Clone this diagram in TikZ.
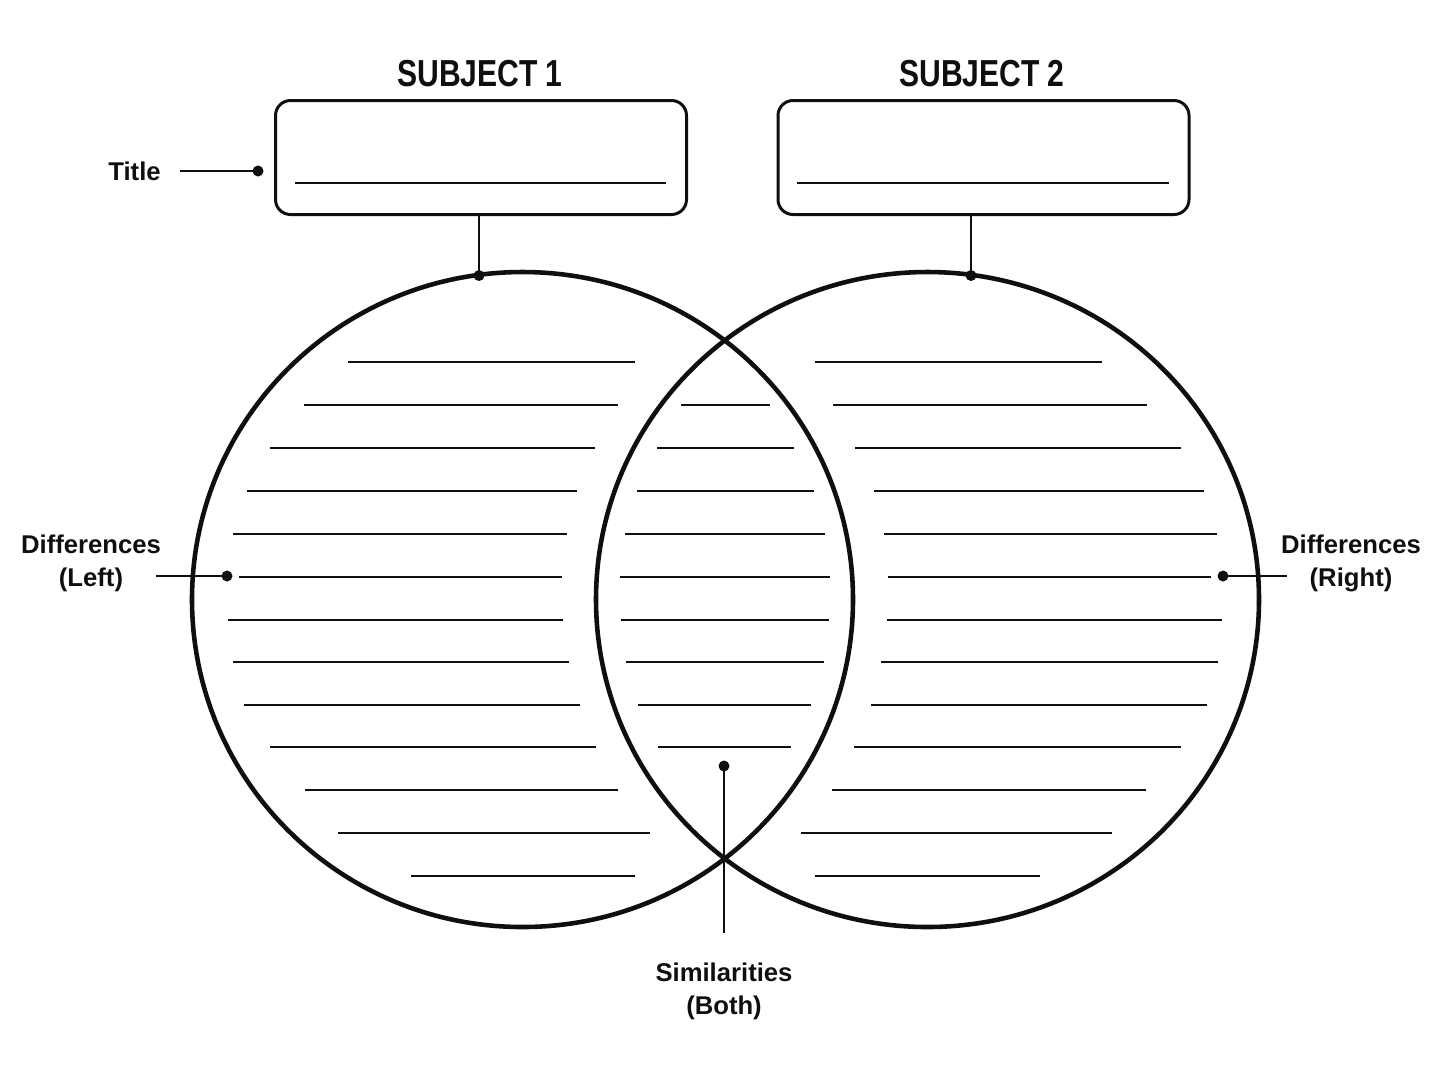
\documentclass[tikz,border=0pt]{standalone}
\usepackage{fontspec}
\setmainfont{Liberation Sans}
\newfontfamily\subjfont[FakeStretch=0.8]{Liberation Sans}
\definecolor{inkblack}{RGB}{15, 15, 15}
\usetikzlibrary{positioning, shapes.geometric}

\tikzset{
  ring/.style={draw=inkblack, line width=1.3pt, ellipse, minimum height=65.5mm, inner sep=0pt},
  subjbox/.style={draw=inkblack, line width=0.85pt, rectangle, rounded corners=1.5mm,
    minimum width=41.1mm, minimum height=11.4mm, inner sep=0pt},
  writeline/.style={inkblack, line width=0.55pt},
  leader/.style={inkblack, line width=0.6pt},
  lbl/.style={font=\fontsize{7.3}{9.4}\selectfont\bfseries, text=inkblack, inner sep=0pt, align=center},
  subj/.style={font=\fontsize{10.7}{12}\selectfont\subjfont\bfseries, text=inkblack, inner sep=0pt},
}

\begin{document}
\begin{tikzpicture}[x=0.1mm, y=-0.1mm]
  \fill[white] (0,0) rectangle (1448,1086);
  \useasboundingbox (0,0) rectangle (1448,1086);

  % --- Subject headers and boxes ---
  \node[subj, anchor=base] (subj1) at (480,86.5) {SUBJECT 1};
  \node[subj, anchor=base] (subj2) at (982,86.5) {SUBJECT 2};
  \node[subjbox] (box1) at (481,157.5) {};
  \node[subjbox] (box2) at (983.5,157.5) {};
  \draw[writeline] (295,183) -- (666,183);
  \draw[writeline] (797,183) -- (1169,183);

  % --- The two circles ---
  \node[ring, minimum width=66.1mm] (left) at (522.5,599.5) {};
  \node[ring, minimum width=66.3mm] (right) at (927.5,599.5) {};

  % --- Left circle lines ---
  \foreach \y/\a/\b in {362/348/635, 405/304/618, 448/270/595, 491/247/577,
      534/233/567, 577/239/562, 620/228/563, 662/233/569, 705/244/580,
      747/270/596, 790/305/618, 833/338/650, 876/411/635} {
    \draw[writeline] (\a,\y) -- (\b,\y);
  }

  % --- Overlap lines ---
  \foreach \y/\a/\b in {405/681/770, 448/657/794, 491/637/814, 534/625/825,
      577/620/830, 620/621/829, 662/626/824, 705/638/811, 747/658/791} {
    \draw[writeline] (\a,\y) -- (\b,\y);
  }

  % --- Right circle lines ---
  \foreach \y/\a/\b in {362/815/1102, 405/833/1147, 448/855/1181, 491/874/1204,
      534/884/1217, 577/888/1211, 620/887/1222, 662/881/1218, 705/871/1207,
      747/854/1181, 790/832/1146, 833/801/1112, 876/815/1040} {
    \draw[writeline] (\a,\y) -- (\b,\y);
  }

  % --- Box to circle connectors ---
  \coordinate (top1) at (479,275.5);
  \coordinate (top2) at (971,275.5);
  \draw[leader] (box1.south -| top1) -- (top1);
  \draw[leader] (box2.south -| top2) -- (top2);
  \fill[inkblack] (top1) circle (0.55mm);
  \fill[inkblack] (top2) circle (0.55mm);

  % --- Labels ---
  \node[lbl, anchor=base] (title) at (134.5,180) {Title};
  \node[lbl] (diffL) at (91,563) {Differences\\(Left)};
  \node[lbl] (diffR) at (1351,563) {Differences\\(Right)};
  \node[lbl] (simil) at (724,991) {Similarities\\(Both)};

  % --- Label leaders ---
  \coordinate (titledot) at (258,171);
  \coordinate (titleend) at (180,171);
  \coordinate (diffLdot) at (227,576);
  \coordinate (diffLend) at (156,576);
  \coordinate (diffRdot) at (1223,576);
  \coordinate (diffRend) at (1287,576);
  \coordinate (simildot) at (724,766);
  \coordinate (similend) at (724,933);
  \foreach \s/\e in {titleend/titledot, diffLend/diffLdot, diffRend/diffRdot, similend/simildot} {
    \draw[leader] (\s) -- (\e);
    \fill[inkblack] (\e) circle (0.55mm);
  }
\end{tikzpicture}
\end{document}
